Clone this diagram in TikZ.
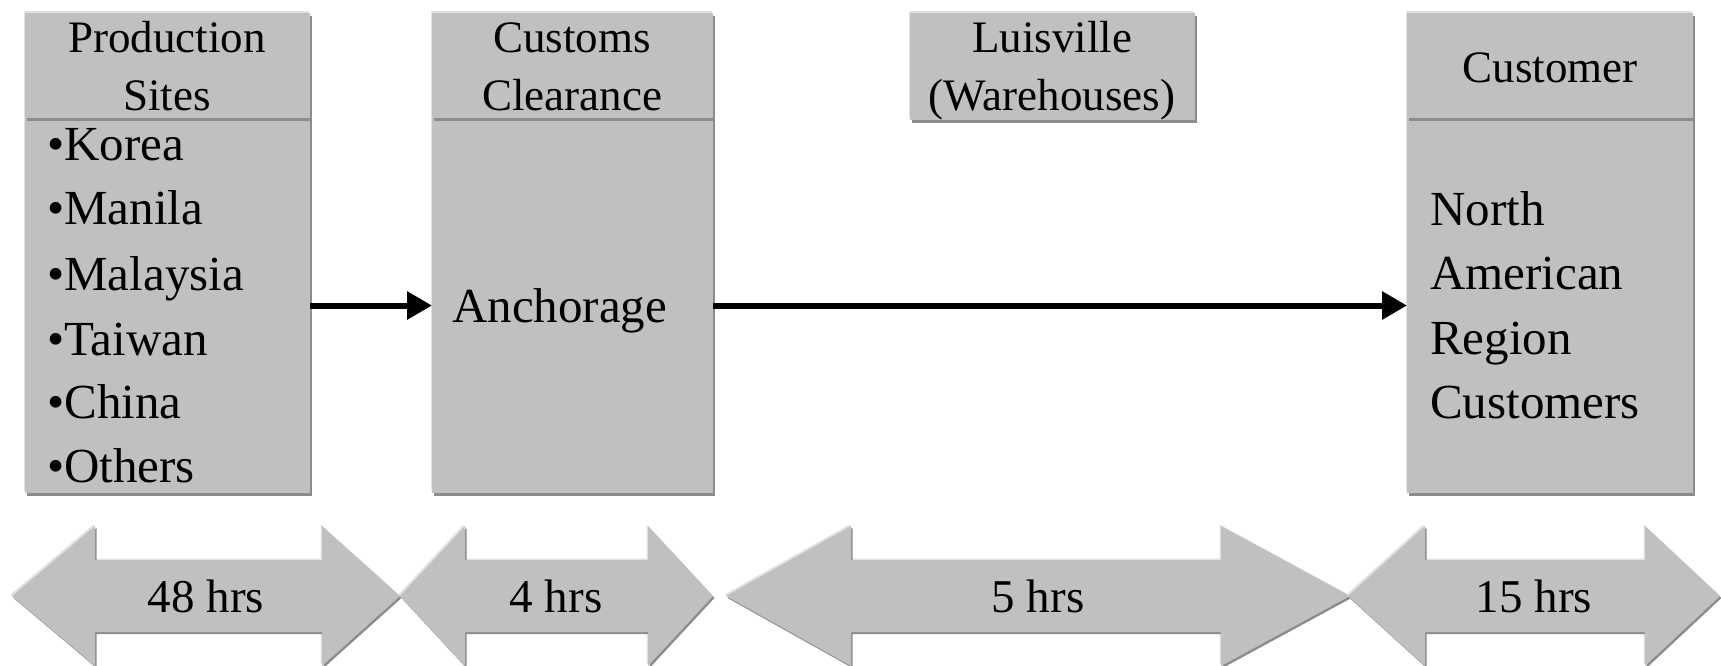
\documentclass[tikz,border=0pt]{standalone}
\usepackage{fontspec}
\setmainfont{Liberation Serif}
\usetikzlibrary{shadows,arrows.meta}
\definecolor{boxgray}{HTML}{C0C0C0}
\definecolor{shade}{HTML}{8C8C8C}
\definecolor{hilite}{HTML}{E2E2E2}
\tikzset{
  panel/.style={rectangle, inner sep=0pt, outer sep=0pt, fill=boxgray, anchor=north west,
     general shadow={shadow xshift=-1.5pt, shadow yshift=2pt, fill=hilite},
     general shadow={shadow xshift=2pt, shadow yshift=-2.5pt, fill=shade}},
  band/.style={fill=boxgray,
     general shadow={shadow xshift=-1.5pt, shadow yshift=1.5pt, fill=hilite},
     general shadow={shadow xshift=1.5pt, shadow yshift=-2pt, fill=shade}},
  headtxt/.style={anchor=base, inner sep=0pt, font=\fontsize{45}{54}\selectfont},
  bodytxt/.style={anchor=base west, inner sep=0pt, font=\fontsize{49}{58}\selectfont},
  hrstxt/.style={anchor=base, inner sep=0pt, font=\fontsize{47}{56}\selectfont},
  flow/.style={line width=6pt, -{Triangle[length=25pt,width=27pt]}}
}
\begin{document}
\begin{tikzpicture}[x=1pt,y=-1pt]
\useasboundingbox[fill=white] (0,0) rectangle (1721,665);

% panels
\node[panel, minimum width=285pt, minimum height=375pt] (b1body) at (25,118) {};
\node[panel, minimum width=285pt, minimum height=105pt] (b1head) at (25,13) {};
\node[panel, minimum width=281pt, minimum height=375pt] (b2body) at (432,118) {};
\node[panel, minimum width=281pt, minimum height=105pt] (b2head) at (432,13) {};
\node[panel, minimum width=285pt, minimum height=107pt] (b3head) at (910,13) {};
\node[panel, minimum width=286pt, minimum height=375pt] (b4body) at (1407,118) {};
\node[panel, minimum width=286pt, minimum height=105pt] (b4head) at (1407,13) {};

% header texts
\node[headtxt] (h1a) at (167,52) {Production};
\node[headtxt] (h1b) at (167,110) {Sites};
\node[headtxt] (h2a) at (572,52) {Customs};
\node[headtxt] (h2b) at (572,110) {Clearance};
\node[headtxt] (h3a) at (1052,52) {Luisville};
\node[headtxt] (h3b) at (1052,110) {(Warehouses)};
\node[headtxt] (h4a) at (1550,82) {Customer};

% body texts
\node[bodytxt] (k1) at (47,160) {•Korea};
\node[bodytxt] (k2) at (47,224) {•Manila};
\node[bodytxt] (k3) at (47,290) {•Malaysia};
\node[bodytxt] (k4) at (47,355) {•Taiwan};
\node[bodytxt] (k5) at (47,418) {•China};
\node[bodytxt] (k6) at (47,482) {•Others};
\node[bodytxt] (anc) at (452,322) {Anchorage};
\node[bodytxt] (n1) at (1430,225) {North};
\node[bodytxt] (n2) at (1430,289) {American};
\node[bodytxt] (n3) at (1430,354) {Region};
\node[bodytxt] (n4) at (1430,418) {Customers};

% connectors
\draw[flow] (b1body.east) -- (b2body.west);
\draw[flow] (b2body.east) -- (b4body.west);

% time bands
\path[band] (12,596) -- (95,526) -- (95,560) -- (322,560) -- (322,526) -- (400,596)
  -- (322,666) -- (322,632) -- (95,632) -- (95,666) -- cycle;
\path[band] (400,596) -- (465,526) -- (465,560) -- (648,560) -- (648,526) -- (713,596)
  -- (648,666) -- (648,632) -- (465,632) -- (465,666) -- cycle;
\path[band] (726,596) -- (851,526) -- (851,560) -- (1221,560) -- (1221,526) -- (1350,596)
  -- (1221,666) -- (1221,632) -- (851,632) -- (851,666) -- cycle;
\path[band] (1348,596) -- (1425,526) -- (1425,560) -- (1645,560) -- (1645,526) -- (1720,596)
  -- (1645,666) -- (1645,632) -- (1425,632) -- (1425,666) -- cycle;

\node[hrstxt] (t1) at (206,612) {48 hrs};
\node[hrstxt] (t2) at (556,612) {4 hrs};
\node[hrstxt] (t3) at (1038,612) {5 hrs};
\node[hrstxt] (t4) at (1534,612) {15 hrs};
\end{tikzpicture}
\end{document}
